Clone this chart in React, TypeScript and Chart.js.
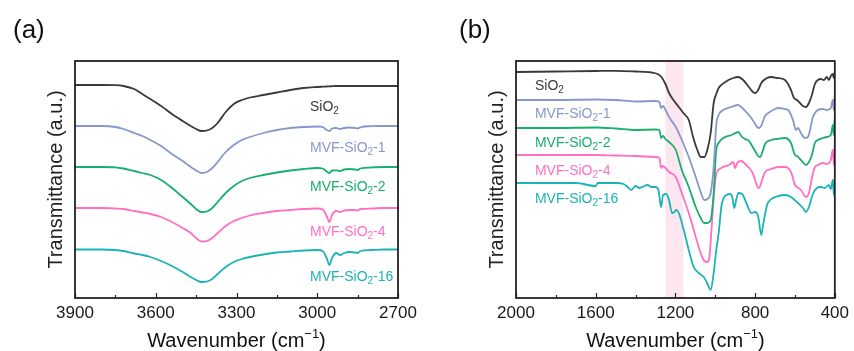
import React, { useEffect, useRef } from "react";
import { Chart, registerables } from "chart.js";

Chart.register(...registerables);

const FONT = '"Liberation Sans", Arial, Helvetica, sans-serif';

// ---------- series ----------
const SERIES_NAMES = ["SiO2", "MVF-SiO2-1", "MVF-SiO2-2", "MVF-SiO2-4", "MVF-SiO2-16"];
const SERIES_COLORS = ["#3a3a3a", "#8797cc", "#17b06c", "#ff6fc3", "#1bb3b6"];

// ---------- panel (a): 3900-2700 cm-1 ----------
const WN_A = [3900, 3800, 3750, 3720, 3680, 3650, 3620, 3580, 3540, 3500, 3470, 3450, 3430, 3410, 3390, 3370, 3340, 3310, 3280, 3250, 3200, 3150, 3100, 3050, 3000, 2980, 2965, 2955, 2945, 2930, 2915, 2900, 2880, 2860, 2850, 2840, 2800, 2750, 2700];
const T_A_SIO2 = [213, 213, 212.8, 212, 209, 204, 199, 192, 184, 177, 172, 169, 167, 167.5, 170, 175, 186, 194, 198, 200.5, 203, 205.5, 208, 210, 211, 211.3, 211.5, 211.7, 211.8, 212, 212, 212, 212, 212, 212, 212, 212, 212, 212];
const T_A_MVF1 = [172, 172, 171, 169, 165, 162, 158, 152, 144, 137, 131, 127.5, 125, 126, 130, 136, 146, 153, 158, 161, 165, 168, 170, 171, 171.5, 171, 168, 167, 169.5, 170, 169, 170, 170.5, 170, 169.5, 170.7, 171.8, 172, 172];
const T_A_MVF2 = [131, 131, 130.7, 129.5, 127, 125, 123, 118, 110, 101, 94, 89, 86, 86.5, 90, 96, 105, 112, 117, 120, 123, 125.5, 127.5, 129, 130, 129.5, 126.5, 125, 127.5, 127.7, 127, 128.5, 129, 128.5, 128, 129.5, 130.5, 131, 131];
const T_A_MVF4 = [90, 90, 89.5, 89, 87, 85.5, 84, 81, 76, 70, 65, 60, 56.5, 57, 60, 65, 72, 77, 80, 82.5, 85, 87, 88, 89, 89.5, 88.5, 82, 76, 83, 87, 86, 87.5, 88, 88, 87.5, 89, 89.5, 90, 90];
const T_A_MVF16 = [48.5, 48.5, 48, 47, 44.5, 43, 41, 37, 32, 26, 21, 18, 16, 16.5, 19, 24, 31, 36, 39, 41, 43.5, 45.5, 46.5, 47.5, 48, 47, 40, 33, 40, 45, 43, 45, 46, 45.5, 45, 47, 48, 48.5, 48.5];

// ---------- panel (b): 2000-400 cm-1 ----------
const WN_B_SIO2 = [2000, 1800, 1600, 1500, 1400, 1320, 1290, 1270, 1250, 1232, 1210, 1183, 1160, 1133, 1110, 1090, 1073, 1055, 1040, 1023, 1008, 995, 983, 950, 910, 884, 860, 835, 820, 808, 798, 788, 778, 769, 740, 719, 690, 650, 620, 605, 590, 575, 560, 545, 530, 515, 500, 485, 470, 455, 440, 430, 420, 410, 405, 400];
const T_B_SIO2 = [226, 226.5, 227, 227.2, 226.5, 225.5, 224, 221, 214, 205, 198, 191, 185, 178, 160, 148, 141, 141, 148, 165, 195, 204, 210, 216, 220, 221, 218, 212, 208, 205.5, 205, 207, 211, 215, 220, 221, 220, 218, 208, 200, 198, 195, 192, 191, 195, 203, 214, 218, 219, 218, 221, 218, 222, 224, 220, 226];

const WN_B_MVF1 = [2000, 1800, 1600, 1500, 1400, 1300, 1280, 1272, 1262, 1250, 1232, 1198, 1168, 1133, 1098, 1073, 1055, 1040, 1023, 1008, 995, 983, 960, 920, 884, 870, 840, 819, 800, 790, 780, 770, 750, 734, 700, 684, 650, 634, 610, 595, 585, 570, 550, 535, 520, 510, 485, 460, 440, 420, 410, 405, 400];
const T_B_MVF1 = [198, 198, 198.5, 198, 196.5, 197, 196, 190, 192, 188, 181, 171, 158, 141, 121, 106, 98, 99, 105, 131, 173, 183, 188, 191, 193, 191, 185, 180, 174, 171, 170, 172, 182, 185, 189, 190, 189, 188, 178, 168, 170, 165, 160, 161, 172, 181, 188, 189, 188, 190, 198, 188, 203];

const WN_B_MVF2 = [2000, 1800, 1600, 1500, 1400, 1300, 1280, 1272, 1262, 1250, 1232, 1198, 1168, 1133, 1098, 1073, 1055, 1040, 1023, 1008, 995, 983, 960, 918, 884, 870, 850, 830, 815, 800, 785, 774, 762, 750, 719, 690, 650, 620, 600, 590, 570, 545, 530, 515, 500, 485, 460, 440, 420, 410, 405, 400];
const T_B_MVF2 = [170, 170, 170.5, 169.5, 168, 168.5, 168, 160, 162, 159, 156, 148, 128, 111, 91, 80, 75, 75, 78, 105, 148, 155, 160, 163, 166, 162, 159, 157, 152, 147, 142, 141, 147, 154, 158, 159, 160, 155, 143, 142, 138, 133, 136, 143, 155, 158, 160, 161, 163, 173, 163, 180];

const WN_B_MVF4 = [2000, 1800, 1600, 1500, 1400, 1300, 1280, 1272, 1262, 1250, 1232, 1198, 1168, 1133, 1098, 1073, 1055, 1040, 1030, 1018, 1000, 993, 970, 930, 910, 900, 890, 870, 850, 830, 815, 800, 790, 780, 768, 750, 719, 680, 650, 620, 600, 590, 570, 545, 530, 515, 500, 485, 460, 440, 420, 410, 405, 400];
const T_B_MVF4 = [143, 143, 143, 142.5, 142, 141, 140, 130, 132, 130, 126, 121, 105, 85, 61, 45, 37, 36, 40, 71, 118, 125, 130, 133, 136, 130, 135, 137, 134, 130, 126, 118, 112, 110, 116, 126, 129, 131, 131, 126, 113, 111, 108, 101, 105, 120, 131, 133, 135, 134, 138, 148, 133, 153];

const WN_B_MVF16 = [2000, 1800, 1700, 1600, 1590, 1500, 1460, 1440, 1422, 1400, 1380, 1367, 1340, 1320, 1300, 1285, 1272, 1262, 1245, 1232, 1217, 1205, 1195, 1183, 1158, 1133, 1108, 1083, 1058, 1043, 1023, 1008, 995, 983, 968, 943, 925, 915, 905, 895, 884, 865, 844, 819, 800, 784, 769, 760, 740, 724, 699, 650, 620, 585, 560, 545, 530, 510, 490, 470, 450, 430, 420, 410, 405, 400];
const T_B_MVF16 = [115, 115, 115, 112, 115, 115, 114, 111, 108, 112, 110, 111, 113, 111, 111, 108, 91, 103, 104, 98, 85, 86, 88, 85, 68, 48, 31, 25, 21, 16, 8, 25, 48, 65, 93, 103, 104, 101, 90, 98, 105, 104, 95, 85, 86, 81, 63, 73, 93, 98, 101, 103, 101, 95, 90, 86, 91, 104, 110, 111, 110, 113, 109, 118, 103, 120];

// ---------- axes ----------
const TICKS_A = [3900, 3600, 3300, 3000, 2700];
const MINOR_A = [3750, 3450, 3150, 2850];
const TICKS_B = [2000, 1600, 1200, 800, 400];
const MINOR_B = [1800, 1400, 1000, 600];
const HIGHLIGHT_B = [1250, 1160];

type PanelCfg = {
  letter: string;
  letterX: number;
  xs: number[][];
  ys: number[][];
  xMin: number;
  xMax: number;
  step: number;
  major: number[];
  minor: number[];
  band: number[] | null;
  padding: { left: number; right: number; top: number; bottom: number };
  labelWn: number;
  labelVals: number[];
};

const PANEL_A: PanelCfg = {
  letter: "(a)",
  letterX: 13,
  xs: [WN_A, WN_A, WN_A, WN_A, WN_A],
  ys: [T_A_SIO2, T_A_MVF1, T_A_MVF2, T_A_MVF4, T_A_MVF16],
  xMin: 2700,
  xMax: 3900,
  step: 300,
  major: TICKS_A,
  minor: MINOR_A,
  band: null,
  padding: { left: 46, right: 29, top: 61, bottom: 0 },
  labelWn: 3027,
  labelVals: [191, 150, 111, 66, 21],
};

const PANEL_B: PanelCfg = {
  letter: "(b)",
  letterX: 32,
  xs: [WN_B_SIO2, WN_B_MVF1, WN_B_MVF2, WN_B_MVF4, WN_B_MVF16],
  ys: [T_B_SIO2, T_B_MVF1, T_B_MVF2, T_B_MVF4, T_B_MVF16],
  xMin: 400,
  xMax: 2000,
  step: 400,
  major: TICKS_B,
  minor: MINOR_B,
  band: HIGHLIGHT_B,
  padding: { left: 60, right: 17, top: 61, bottom: 0 },
  labelWn: 1905,
  labelVals: [212, 184, 155, 127, 99],
};

function drawSubText(ctx: CanvasRenderingContext2D, text: string, x: number, y: number, size: number, color: string) {
  const i = text.indexOf("O2");
  const pre = text.slice(0, i + 1);
  const sub = "2";
  const post = text.slice(i + 2);
  ctx.fillStyle = color;
  ctx.textBaseline = "middle";
  ctx.textAlign = "left";
  ctx.font = `${size}px ${FONT}`;
  ctx.fillText(pre, x, y);
  let cx = x + ctx.measureText(pre).width;
  ctx.font = `${Math.round(size * 0.7)}px ${FONT}`;
  ctx.fillText(sub, cx, y + size * 0.3);
  cx += ctx.measureText(sub).width;
  ctx.font = `${size}px ${FONT}`;
  ctx.fillText(post, cx, y);
}

function makeDecor(cfg: PanelCfg) {
  return {
    id: "decor" + cfg.letter,
    beforeDatasetsDraw(chart: any) {
      if (!cfg.band) return;
      const { ctx, chartArea: a, scales } = chart;
      const x1 = scales.x.getPixelForValue(cfg.band[0]);
      const x2 = scales.x.getPixelForValue(cfg.band[1]);
      ctx.save();
      ctx.fillStyle = "#fce6f0";
      ctx.fillRect(Math.min(x1, x2), a.top, Math.abs(x2 - x1), a.bottom - a.top);
      ctx.restore();
    },
    afterDraw(chart: any) {
      const { ctx, chartArea: a, scales } = chart;
      ctx.save();
      // frame
      ctx.strokeStyle = "#222";
      ctx.lineWidth = 1.8;
      ctx.strokeRect(a.left, a.top, a.right - a.left, a.bottom - a.top);
      // inward ticks
      ctx.lineWidth = 1.2;
      ctx.beginPath();
      cfg.major.forEach((v) => {
        const px = Math.round(scales.x.getPixelForValue(v)) + 0.5;
        ctx.moveTo(px, a.bottom);
        ctx.lineTo(px, a.bottom - 5);
      });
      cfg.minor.forEach((v) => {
        const px = Math.round(scales.x.getPixelForValue(v)) + 0.5;
        ctx.moveTo(px, a.bottom);
        ctx.lineTo(px, a.bottom - 3);
      });
      ctx.stroke();
      // series labels
      const lx = scales.x.getPixelForValue(cfg.labelWn);
      SERIES_NAMES.forEach((name, i) => {
        const ly = scales.y.getPixelForValue(cfg.labelVals[i]);
        drawSubText(ctx, name, lx, ly, 14, SERIES_COLORS[i]);
      });
      // panel letter
      ctx.fillStyle = "#111";
      ctx.font = `26px ${FONT}`;
      ctx.textAlign = "left";
      ctx.textBaseline = "middle";
      ctx.fillText(cfg.letter, cfg.letterX, 31);
      // x axis title with superscript
      const cx = (a.left + a.right) / 2;
      const ty = 341;
      const p1 = "Wavenumber (cm";
      const sup = "\u22121";
      const p3 = ")";
      ctx.font = `20px ${FONT}`;
      const w1 = ctx.measureText(p1).width;
      const w3 = ctx.measureText(p3).width;
      ctx.font = `13px ${FONT}`;
      const w2 = ctx.measureText(sup).width;
      let x0 = cx - (w1 + w2 + w3) / 2;
      ctx.fillStyle = "#111";
      ctx.font = `20px ${FONT}`;
      ctx.fillText(p1, x0, ty);
      x0 += w1;
      ctx.font = `13px ${FONT}`;
      ctx.fillText(sup, x0, ty - 7);
      x0 += w2;
      ctx.font = `20px ${FONT}`;
      ctx.fillText(p3, x0, ty);
      ctx.restore();
    },
  };
}

function Panel({ cfg, left }: { cfg: PanelCfg; left: number }) {
  const ref = useRef<HTMLCanvasElement>(null);
  useEffect(() => {
    const canvas = ref.current;
    if (!canvas) return;
    const datasets = SERIES_NAMES.map((name, i) => ({
      label: name,
      data: cfg.xs[i].map((x, j) => ({ x, y: cfg.ys[i][j] })),
      borderColor: SERIES_COLORS[i],
      borderWidth: 1.8,
      pointRadius: 0,
      fill: false,
      cubicInterpolationMode: "monotone" as const,
    }));
    const chart = new Chart(canvas, {
      type: "line",
      data: { datasets },
      options: {
        animation: false,
        responsive: false,
        devicePixelRatio: 1,
        parsing: false as any,
        layout: { padding: cfg.padding },
        plugins: { legend: { display: false }, tooltip: { enabled: false } },
        scales: {
          x: {
            type: "linear",
            reverse: true,
            min: cfg.xMin,
            max: cfg.xMax,
            grid: { display: false, drawTicks: false },
            border: { display: false },
            ticks: {
              stepSize: cfg.step,
              autoSkip: false,
              maxRotation: 0,
              minRotation: 0,
              padding: 5,
              color: "#1a1a1a",
              font: { family: FONT, size: 17 },
              callback: (v: any) => String(v),
            },
            afterFit: (s: any) => {
              s.height = 53;
            },
          },
          y: {
            type: "linear",
            min: 0,
            max: 237,
            grid: { display: false, drawTicks: false },
            border: { display: false },
            ticks: { display: false },
            title: {
              display: true,
              text: "Transmittance (a.u.)",
              color: "#222",
              font: { family: FONT, size: 20, lineHeight: 1 },
              padding: 0,
            },
            afterFit: (s: any) => {
              s.width = 29;
            },
          },
        },
      },
      plugins: [makeDecor(cfg)],
    });
    return () => chart.destroy();
  }, [cfg]);
  return (
    <canvas
      ref={ref}
      width={427}
      height={351}
      style={{ position: "absolute", left, top: 0, width: 427, height: 351 }}
    />
  );
}

export default function App() {
  return (
    <div style={{ position: "absolute", left: 0, top: 0, width: 854, height: 351, background: "#fff", overflow: "hidden" }}>
      <Panel cfg={PANEL_A} left={0} />
      <Panel cfg={PANEL_B} left={427} />
    </div>
  );
}
